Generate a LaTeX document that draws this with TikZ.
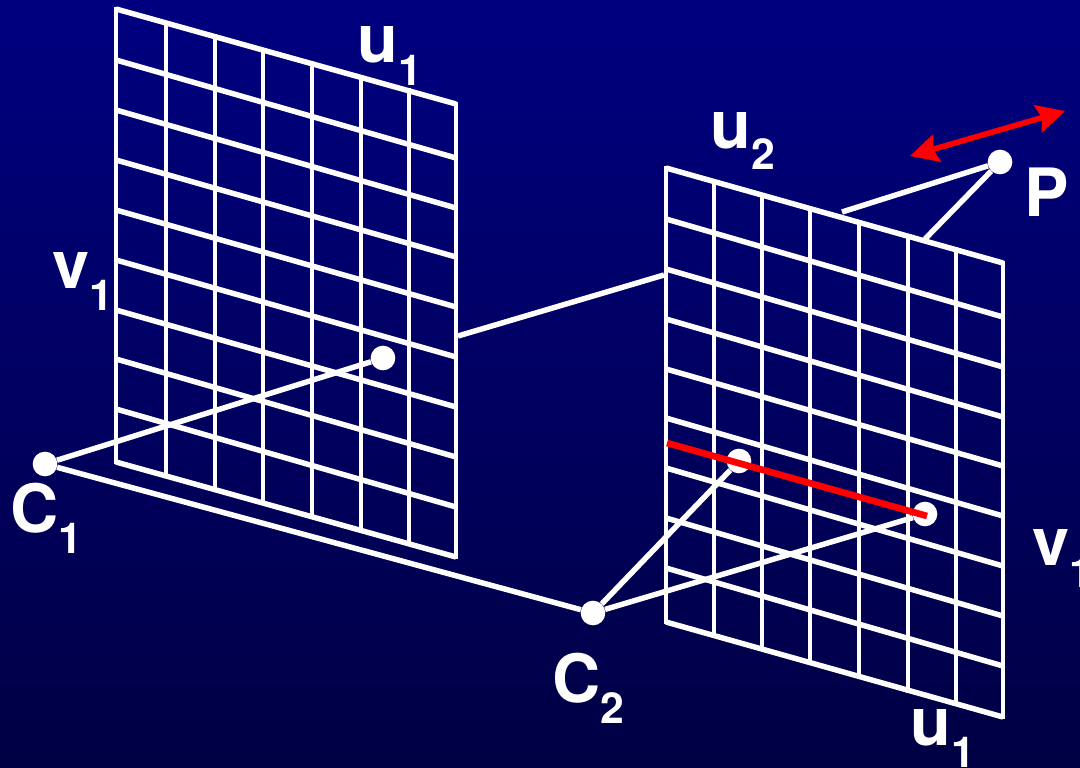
\documentclass[tikz,border=0pt]{standalone}
\usepackage{fontspec}
\setmainfont{TeX Gyre Heros}
\usetikzlibrary{arrows.meta}
\definecolor{bgtop}{RGB}{0,0,128}
\definecolor{bgbot}{RGB}{0,0,68}
\definecolor{redl}{RGB}{255,0,0}
\newcommand{\lab}[3]{{\fontsize{50pt}{50pt}\selectfont\bfseries #1\raisebox{-#3pt}{\fontsize{32pt}{32pt}\selectfont #2}}}
\tikzset{
  gridh/.style={white,line width=4.1pt},
  gridv/.style={white,line width=3.6pt,line cap=rect},
  conn/.style={white,line width=4.1pt},
  dotnode/.style={circle,fill=white,inner sep=0pt,minimum size=18.5pt},
  labelnode/.style={anchor=base west,inner sep=0pt,text=white},
  redline/.style={redl,line width=5pt},
  redarrow/.style={redl,line width=4.2pt,{Stealth[length=21pt,width=21pt,inset=3pt]}-{Stealth[length=21pt,width=21pt,inset=3pt]}}
}
\newcommand{\gridplane}[7]{%
  % #1 x-list, #2 left/right ys, #3 xL, #4 xR, #5 top-left y, #6 top-right y, #7 vertical height
  \foreach \yl/\yr in {#2} {\draw[gridh] (#3,\yl) -- (#4,\yr);}
  \foreach \xx in {#1} {
    \pgfmathsetmacro{\ty}{#5+(\xx-#3)/(#4-#3)*(#6-#5)}
    \pgfmathsetmacro{\by}{\ty+#7}
    \draw[gridv] (\xx,\ty) -- (\xx,\by);
  }%
}
\begin{document}
\begin{tikzpicture}[x=0.75pt,y=-0.75pt]
\useasboundingbox (0,0) rectangle (1080,767);
\clip (0,0) rectangle (1080,767);
\shade[top color=bgtop,bottom color=bgbot] (0,0) rectangle (1080,767);
% left plane
\gridplane{116,166,215,263,312,361,409,456}
 {9/104,60/158,110/208,160/257,210/307,260/357,310/407,359/457,409/507,462/557}
 {116}{456}{9}{104}{453}
% right plane
\gridplane{666,714,762,810,859,908,956,1003}
 {168/263,219/317,269/367,319/417,369/466,418/516,468/566,518/616,568/666,622/717}
 {666}{1003}{168}{263}{454}
% points
\node[dotnode] (c1) at (45,464) {};
\node[dotnode] (c2) at (593,613) {};
\node[dotnode] (p1) at (383,358) {};
\node[dotnode] (p2) at (739,461) {};
\node[dotnode] (p3) at (925,514) {};
\node[dotnode] (p) at (1000,162) {};
\coordinate (ba) at (458,336);
\coordinate (bb) at (664,275);
\coordinate (pa) at (842,212);
\coordinate (pb) at (925,239);
\coordinate (ra) at (667,443);
\coordinate (rb) at (927,516);
\coordinate (aa) at (910,156);
\coordinate (ab) at (1065,111);
% connectors
\draw[conn] (c1) -- (p1);
\draw[conn] (c1) -- (c2);
\draw[conn] (ba) -- (bb);
\draw[conn] (p) -- (pa);
\draw[conn] (p) -- (pb);
\draw[conn] (c2) -- (p2);
\draw[conn] (c2) -- (p3);
\draw[redline] (ra) -- (rb);
\draw[redarrow] (aa) -- (ab);
% labels
\node[labelnode] (lu1) at (357,63) {\lab{u}{1}{17}};
\node[labelnode] (lv1) at (52,288) {\lab{v}{1}{17}};
\node[labelnode] (lu2) at (710,148) {\lab{u}{2}{16}};
\node[labelnode] (lp) at (1024,216) {\lab{P}{}{0}};
\node[labelnode] (lc1) at (10,532) {\lab{C}{1}{16}};
\node[labelnode] (lc2) at (552,702) {\lab{C}{2}{16}};
\node[labelnode] (lv2) at (1032,565) {\lab{v}{1}{17}};
\node[labelnode] (lu3) at (910,745) {\lab{u}{1}{17}};
\end{tikzpicture}
\end{document}
